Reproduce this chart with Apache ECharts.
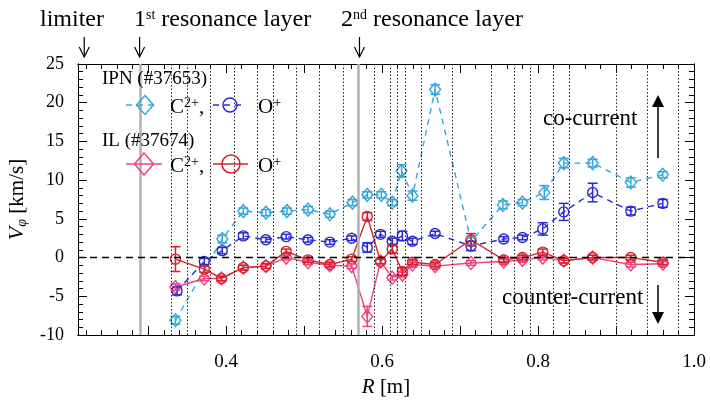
<!DOCTYPE html>
<html>
<head>
<meta charset="utf-8">
<script src="https://cdn.jsdelivr.net/npm/echarts@6/dist/echarts.min.js"></script>
<style>
  html, body { margin: 0; padding: 0; background: #fff; }
  #vphi { width: 710px; height: 400px; }
</style>
</head>
<body>
<div id="vphi"></div>
<script>
// 数据: R [m], V [km/s], 误差
var rIpnC = [0.335, 0.395, 0.422, 0.451, 0.478, 0.505, 0.533, 0.562, 0.581, 0.599, 0.613, 0.625, 0.639, 0.668, 0.714, 0.755, 0.780, 0.808, 0.833, 0.870, 0.919, 0.960];
var vIpnC = [-8.1, 2.4, 6.0, 5.8, 6.0, 6.2, 5.6, 7.1, 8.1, 8.1, 7.1, 11.2, 8.0, 21.7, 2.1, 6.8, 7.1, 8.4, 12.2, 12.2, 9.7, 10.7];
var eIpnC = [0.5, 0.5, 0.4, 0.4, 0.4, 0.4, 0.4, 0.4, 0.4, 0.4, 0.4, 0.8, 0.6, 0.6, 0.5, 0.5, 0.4, 0.9, 0.6, 0.5, 0.6, 0.4];

var rIpnO = [0.337, 0.372, 0.395, 0.422, 0.451, 0.477, 0.505, 0.533, 0.561, 0.581, 0.598, 0.613, 0.626, 0.639, 0.668, 0.714, 0.756, 0.780, 0.806, 0.833, 0.870, 0.919, 0.960];
var vIpnO = [-4.3, -0.5, 0.9, 2.8, 2.3, 2.7, 2.3, 2.0, 2.5, 1.3, 3.0, 2.1, 2.8, 2.1, 3.1, 1.5, 2.4, 2.6, 3.7, 5.9, 8.4, 6.0, 7.0];
var eIpnO = [0.5, 0.4, 0.4, 0.4, 0.3, 0.3, 0.3, 0.3, 0.3, 0.6, 0.4, 0.4, 0.6, 0.4, 0.3, 0.6, 0.3, 0.3, 0.8, 1.1, 1.2, 0.5, 0.5];

var rIl = [0.335, 0.372, 0.394, 0.422, 0.451, 0.477, 0.505, 0.533, 0.561, 0.581, 0.598, 0.613, 0.626, 0.639, 0.668, 0.714, 0.756, 0.780, 0.806, 0.833, 0.870, 0.919, 0.960];
var vIlC = [-3.8, -2.7, -2.7, -1.3, -1.1, 0.0, -0.6, -1.0, -1.1, -7.6, -0.5, -2.6, -2.2, -0.9, -1.1, -0.7, -0.5, -0.3, 0.0, -0.4, 0.0, -0.9, -0.8];
var eIlC = [0.4, 0.3, 0.3, 0.3, 0.3, 0.3, 0.3, 0.3, 0.3, 1.3, 0.3, 0.3, 0.3, 0.3, 0.3, 0.3, 0.3, 0.3, 0.3, 0.3, 0.3, 0.3, 0.3];
var vIlO = [-0.2, -1.5, -2.7, -1.3, -1.1, 0.8, -0.3, -0.9, -0.2, 5.3, -0.5, 1.1, -1.8, -0.6, -0.9, 2.3, -0.3, 0.0, 0.7, -0.4, 0.0, 0.0, -0.6];
var eIlO = [1.6, 0.4, 0.3, 0.3, 0.3, 0.3, 0.3, 0.3, 0.3, 0.5, 0.3, 0.5, 0.5, 0.3, 0.3, 0.8, 0.3, 0.3, 0.4, 0.3, 0.3, 0.3, 0.3];

// 视线位置 (虚线) 和共振层
var chordR = [0.325, 0.352, 0.380, 0.408, 0.436, 0.463, 0.491, 0.520, 0.548, 0.575, 0.592, 0.607, 0.619, 0.632, 0.647, 0.689, 0.743, 0.768, 0.794, 0.820, 0.845, 0.897, 0.944, 0.979];
var resR = [0.289, 0.571];
var limiterR = 0.218;

// 刻度
var xLabels = [0.4, 0.6, 0.8, 1.0];
var xMajor = [0.3, 0.4, 0.5, 0.6, 0.7, 0.8, 0.9, 1.0];
var xMinor = [0.22, 0.24, 0.26, 0.28, 0.30, 0.32, 0.34, 0.36, 0.38, 0.40, 0.42, 0.44, 0.46, 0.48, 0.50,
              0.52, 0.54, 0.56, 0.58, 0.60, 0.62, 0.64, 0.66, 0.68, 0.70, 0.72, 0.74, 0.76, 0.78, 0.80,
              0.82, 0.84, 0.86, 0.88, 0.90, 0.92, 0.94, 0.96, 0.98];

var FONT = '"Liberation Serif", "DejaVu Serif", serif';
var cLight = '#35a6dc', cBlue = '#2a2ad4', cPink = '#f2407c', cRed = '#d6232b';

function zip(r, v, e) {
    var out = [];
    for (var i = 0; i < r.length; i++) out.push(e ? [r[i], v[i], e[i]] : [r[i], v[i]]);
    return out;
}

function errRender(color) {
    return function (params, api) {
        var x = api.value(0), y = api.value(1), e = api.value(2);
        var lo = api.coord([x, y - e]), hi = api.coord([x, y + e]);
        var w = 5;
        var st = { stroke: color, lineWidth: 1.5 };
        return {
            type: 'group',
            children: [
                { type: 'line', shape: { x1: lo[0], y1: lo[1], x2: hi[0], y2: hi[1] }, style: st },
                { type: 'line', shape: { x1: lo[0] - w, y1: lo[1], x2: lo[0] + w, y2: lo[1] }, style: st },
                { type: 'line', shape: { x1: hi[0] - w, y1: hi[1], x2: hi[0] + w, y2: hi[1] }, style: st }
            ]
        };
    };
}

function xAx(pos, ticks, len, labels) {
    return {
        type: 'value', position: pos, min: 0.21, max: 1.0,
        axisLine: { show: true, onZero: false, lineStyle: { color: '#000', width: 1 } },
        axisTick: { show: true, inside: true, length: len, customValues: ticks, lineStyle: { color: '#000' } },
        axisLabel: labels ? {
            show: true, customValues: labels, margin: 18, color: '#000',
            fontFamily: FONT, fontSize: 19,
            formatter: function (v) { return v.toFixed(1); }
        } : { show: false },
        splitLine: { show: false }
    };
}

function yAx(pos, interval, len, labels) {
    return {
        type: 'value', position: pos, min: -10, max: 25, interval: interval,
        axisLine: { show: true, onZero: false, lineStyle: { color: '#000', width: 1 } },
        axisTick: { show: true, inside: true, length: len, lineStyle: { color: '#000' } },
        axisLabel: labels ? { show: true, margin: 14, color: '#000', fontFamily: FONT, fontSize: 18 } : { show: false },
        splitLine: { show: false }
    };
}

var xAxes = [xAx('bottom', xMajor, 9, xLabels), xAx('bottom', xMinor, 5), xAx('top', xMajor, 9), xAx('top', xMinor, 5)];
xAxes[0].name = '{i|R} [m]';
xAxes[0].nameLocation = 'middle';
xAxes[0].nameGap = 42;
xAxes[0].nameTextStyle = { fontFamily: FONT, fontSize: 21, color: '#000', rich: { i: { fontFamily: FONT, fontSize: 21, fontStyle: 'italic' } } };

var yAxes = [yAx('left', 5, 9, true), yAx('left', 1, 5), yAx('right', 5, 9), yAx('right', 1, 5)];
yAxes[0].name = '{i|V}{s|φ} [km/s]';
yAxes[0].nameLocation = 'middle';
yAxes[0].nameGap = 47;
yAxes[0].nameRotate = 90;
yAxes[0].nameTextStyle = {
    fontFamily: FONT, fontSize: 21, color: '#000',
    rich: {
        i: { fontFamily: FONT, fontSize: 22, fontStyle: 'italic' },
        s: { fontFamily: FONT, fontSize: 14, fontStyle: 'italic', verticalAlign: 'bottom', padding: [10, 0, 0, 0] }
    }
};

var markLines = chordR.map(function (r) { return { xAxis: r }; });
resR.forEach(function (r) {
    markLines.push({ xAxis: r, lineStyle: { type: 'solid', color: '#b2b2b2', width: 2.5 } });
});
markLines.push({ yAxis: 0, lineStyle: { type: [7, 5], color: '#000', width: 1.3 } });

function lineSeries(data, color, dashed, symbol, size) {
    return {
        type: 'line', data: data, xAxisIndex: 0, yAxisIndex: 0, z: 3,
        symbol: symbol, symbolSize: size,
        lineStyle: { color: color, width: 1.4, type: dashed ? [6, 5] : 'solid' },
        itemStyle: { color: 'rgba(255,255,255,0)', borderColor: color, borderWidth: 1.4 },
        emphasis: { disabled: true }
    };
}

function errSeries(data, color) {
    return {
        type: 'custom', data: data, xAxisIndex: 0, yAxisIndex: 0, z: 4,
        renderItem: errRender(color), silent: true
    };
}

var myChart = echarts.init(document.getElementById('vphi'));
myChart.setOption({
    animation: false,
    backgroundColor: '#fff',
    grid: { left: 78, right: 16, top: 64, bottom: 65, outerBoundsMode: 'none', containLabel: false },
    xAxis: xAxes,
    yAxis: yAxes,
    series: [
        {
            type: 'line', data: [], xAxisIndex: 0, yAxisIndex: 0, z: 1,
            markLine: {
                silent: true, symbol: 'none', label: { show: false }, animation: false,
                lineStyle: { type: [1.5, 2], color: '#222', width: 1 },
                data: markLines
            }
        },
        lineSeries(zip(rIpnC, vIpnC), cLight, true, 'diamond', [11, 13]),
        errSeries(zip(rIpnC, vIpnC, eIpnC), cLight),
        lineSeries(zip(rIpnO, vIpnO), cBlue, true, 'circle', 10),
        errSeries(zip(rIpnO, vIpnO, eIpnO), cBlue),
        lineSeries(zip(rIl, vIlC), cPink, false, 'diamond', [11, 13]),
        errSeries(zip(rIl, vIlC, eIlC), cPink),
        lineSeries(zip(rIl, vIlO), cRed, false, 'circle', 10),
        errSeries(zip(rIl, vIlO, eIlO), cRed)
    ]
});

// 注释 (箭头位置由坐标轴换算)
function px(r) { return myChart.convertToPixel({ xAxisIndex: 0 }, r); }
function downArrow(x) {
    return [
        { type: 'line', shape: { x1: x, y1: 37, x2: x, y2: 57 }, style: { stroke: '#000', lineWidth: 1.2 } },
        { type: 'polyline', shape: { points: [[x - 5, 47], [x, 57], [x + 5, 47]] }, style: { stroke: '#000', lineWidth: 1.2, fill: null } }
    ];
}
function txt(x, y, text, size, extra) {
    var st = { text: text, x: x, y: y, fill: '#000', font: size + 'px ' + FONT, verticalAlign: 'middle' };
    if (extra) for (var k in extra) st[k] = extra[k];
    return { type: 'text', style: st, z: 10 };
}
var supRich = function (size) {
    return { sup: { fontFamily: FONT, fontSize: size, verticalAlign: 'top', fill: '#000' } };
};
function diamond(cx, cy, w, h, color) {
    return { type: 'polygon', shape: { points: [[cx, cy - h / 2], [cx + w / 2, cy], [cx, cy + h / 2], [cx - w / 2, cy]] },
        style: { stroke: color, lineWidth: 1.5, fill: 'rgba(255,255,255,0)' }, z: 10 };
}
function ring(cx, cy, r, color) {
    return { type: 'circle', shape: { cx: cx, cy: cy, r: r }, style: { stroke: color, lineWidth: 1.5, fill: 'rgba(255,255,255,0)' }, z: 10 };
}
function seg(x1, x2, y, color, dashed) {
    return { type: 'line', shape: { x1: x1, y1: y, x2: x2, y2: y },
        style: { stroke: color, lineWidth: 1.5, lineDash: dashed ? [6, 5] : null }, z: 10 };
}

var g = [];
g.push(txt(40, 20, 'limiter', 24));
g.push(txt(134, 20, '1{sup|st} resonance layer', 24, { rich: supRich(14) }));
g.push(txt(341, 20, '2{sup|nd} resonance layer', 24, { rich: supRich(14) }));
g = g.concat(downArrow(px(limiterR)), downArrow(px(resR[0])), downArrow(px(resR[1])));

// 图例
g.push(txt(102, 79, 'IPN (#37653)', 19));
g.push(seg(126, 158, 105, cLight, true), diamond(145, 105, 17, 19, cLight));
g.push(txt(170, 107, 'C{sup|2+},', 21, { rich: supRich(14) }));
g.push(seg(213, 244, 105, cBlue, true), ring(230, 105, 7, cBlue));
g.push(txt(258, 107, 'O{sup|+}', 21, { rich: supRich(14) }));
g.push(txt(102, 141, 'IL (#37674)', 19));
g.push(seg(126, 162, 164, cPink, false), diamond(144, 164, 19, 22, cPink));
g.push(txt(170, 166, 'C{sup|2+},', 21, { rich: supRich(14) }));
g.push(seg(213, 248, 164, cRed, false), ring(231, 164, 9, cRed));
g.push(txt(258, 166, 'O{sup|+}', 21, { rich: supRich(14) }));

// 方向
g.push(txt(543, 119, 'co-current', 23));
g.push({ type: 'line', shape: { x1: 658, y1: 158, x2: 658, y2: 104 }, style: { stroke: '#000', lineWidth: 1.5 }, z: 10 });
g.push({ type: 'polygon', shape: { points: [[652, 107], [658, 95], [664, 107]] }, style: { fill: '#000' }, z: 10 });
g.push(txt(502, 298, 'counter-current', 23));
g.push({ type: 'line', shape: { x1: 658, y1: 285, x2: 658, y2: 314 }, style: { stroke: '#000', lineWidth: 1.5 }, z: 10 });
g.push({ type: 'polygon', shape: { points: [[652, 312], [658, 324], [664, 312]] }, style: { fill: '#000' }, z: 10 });

myChart.setOption({ graphic: { elements: g } });
</script>
</body>
</html>
